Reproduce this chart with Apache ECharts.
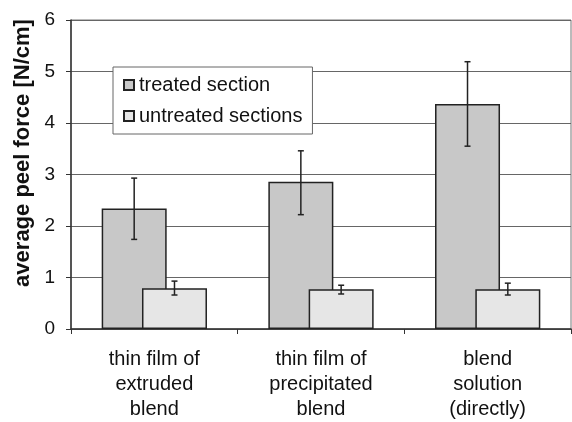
<!DOCTYPE html>
<html>
<head>
<meta charset="utf-8">
<script src="https://cdn.jsdelivr.net/npm/echarts@6/dist/echarts.min.js"></script>
<style>
html,body{margin:0;padding:0;background:#fff;}
#chart{width:572px;height:422px;}
</style>
</head>
<body>
<div id="chart"></div>
<script>
// ---- data ----
const categories = ['thin film of\nextruded\nblend', 'thin film of\nprecipitated\nblend', 'blend\nsolution\n(directly)'];
const seriesNames = ['treated section', 'untreated sections'];
const treated = [2.34, 2.86, 4.37];
const treatedLow = [1.74, 2.22, 3.55];
const treatedHigh = [2.93, 3.46, 5.19];
const untreated = [0.79, 0.77, 0.77];
const untreatedLow = [0.66, 0.68, 0.66];
const untreatedHigh = [0.93, 0.85, 0.89];
const yTicks = [0, 1, 2, 3, 4, 5, 6];
const yTitle = 'average peel force [N/cm]';

const BAR_W = 65;
const BAR_GAP = -0.38;
const FONT = '"Liberation Sans", Arial, sans-serif';

function errRows(low, high) {
  return low.map((l, i) => [i, l, high[i]]);
}
function errSeries(low, high, sign) {
  return {
    type: 'custom',
    silent: true,
    z: 5,
    data: errRows(low, high),
    renderItem: function (params, api) {
      const off = sign * BAR_W * (1 + BAR_GAP) / 2;
      const x = api.coord([api.value(0), 0])[0] + off;
      const yl = api.coord([api.value(0), api.value(1)])[1];
      const yh = api.coord([api.value(0), api.value(2)])[1];
      const cap = 3;
      const st = { stroke: '#222', lineWidth: 1.5 };
      return {
        type: 'group',
        children: [
          { type: 'line', shape: { x1: x, y1: yl, x2: x, y2: yh }, style: st },
          { type: 'line', shape: { x1: x - cap, y1: yl, x2: x + cap, y2: yl }, style: st },
          { type: 'line', shape: { x1: x - cap, y1: yh, x2: x + cap, y2: yh }, style: st }
        ]
      };
    }
  };
}

const chart = echarts.init(document.getElementById('chart'), null, { renderer: 'canvas' });
chart.setOption({
  animation: false,
  backgroundColor: '#fff',
  textStyle: { fontFamily: FONT },
  grid: { left: 71, right: 1, top: 20, bottom: 91, show: true, borderColor: '#777', borderWidth: 1 },
  legend: {
    orient: 'vertical',
    left: 113, top: 67,
    padding: [8, 10, 8, 10],
    itemGap: 11,
    itemWidth: 10, itemHeight: 10,
    icon: 'rect',
    backgroundColor: '#fff',
    borderColor: '#666', borderWidth: 1,
    textStyle: { fontFamily: FONT, fontSize: 20, color: '#111' },
    data: seriesNames
  },
  xAxis: {
    type: 'category',
    data: categories,
    axisLine: { lineStyle: { color: '#333', width: 1.5 } },
    axisTick: { show: true, length: 5, lineStyle: { color: '#333' } },
    axisLabel: { fontFamily: FONT, fontSize: 20, color: '#111', lineHeight: 25, margin: 18 }
  },
  yAxis: {
    type: 'value',
    min: yTicks[0], max: yTicks[yTicks.length - 1], interval: 1,
    axisLine: { show: true, lineStyle: { color: '#333', width: 1.5 } },
    axisTick: { show: true, length: 5, lineStyle: { color: '#333' } },
    axisLabel: { fontFamily: FONT, fontSize: 19, color: '#111', margin: 16 },
    splitLine: { lineStyle: { color: '#666', width: 1 } }
  },
  graphic: [{
    type: 'text',
    x: 23, y: 153,
    rotation: Math.PI / 2,
    style: {
      text: yTitle,
      font: 'bold 22px ' + FONT,
      fill: '#111',
      textAlign: 'center',
      textVerticalAlign: 'middle'
    }
  }],
  series: [
    {
      name: seriesNames[0], type: 'bar', data: treated,
      barWidth: BAR_W, barGap: (BAR_GAP * 100) + '%',
      itemStyle: { color: '#c8c8c8', borderColor: '#222', borderWidth: 1.5 }
    },
    {
      name: seriesNames[1], type: 'bar', data: untreated,
      barWidth: BAR_W, barGap: (BAR_GAP * 100) + '%',
      itemStyle: { color: '#e6e6e6', borderColor: '#222', borderWidth: 1.5 }
    },
    errSeries(treatedLow, treatedHigh, -1),
    errSeries(untreatedLow, untreatedHigh, 1)
  ]
});
</script>
</body>
</html>
